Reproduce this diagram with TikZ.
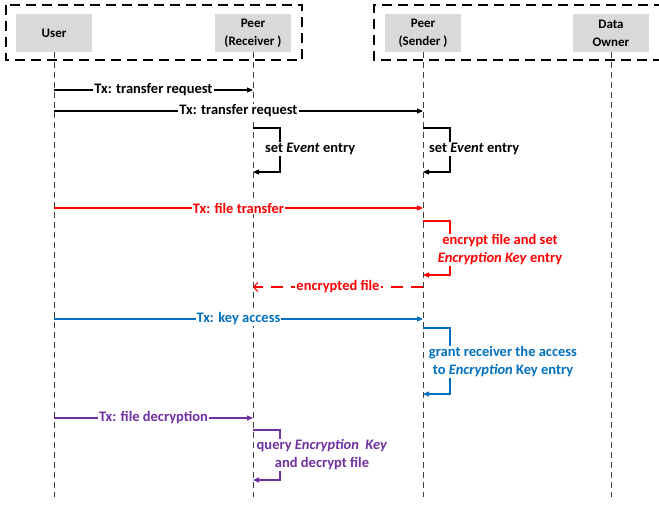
\documentclass[tikz,border=0pt]{standalone}
\usepackage{fontspec}
\setmainfont{Carlito}
\usepackage{xcolor}
\usetikzlibrary{arrows.meta,positioning,calc}
\definecolor{txred}{HTML}{FF0000}
\definecolor{txblue}{HTML}{0070C0}
\definecolor{txpurple}{HTML}{7030A0}
\tikzset{
    actor/.style={fill=black!15,minimum width=76pt,minimum height=38pt,align=center,inner sep=0pt,font=\fontsize{13}{18}\selectfont\bfseries},
    group/.style={dash pattern=on 10pt off 6pt,line width=1.8pt},
    lifeline/.style={dash pattern=on 6pt off 4pt,line width=0.9pt,black!75},
    msg/.style={-{Triangle[length=6pt,width=5pt]},line width=1.1pt},
    reply/.style={-{Straight Barb[length=4pt,width=9pt]},line width=1.1pt,dash pattern=on 12pt off 8pt},
    lbl/.style={fill=white,inner sep=1pt,align=center,font=\fontsize{14.5}{18}\selectfont\bfseries},
}
\begin{document}
\begin{tikzpicture}[x=1pt,y=-1pt]
    \useasboundingbox (0,0) rectangle (659,504);
    % groups
    \draw[group] (6,5) rectangle (302,60);
    \draw[group] (664,5) -- (374,5) -- (374,60) -- (664,60);
    % actors
    \node[actor] (user) at (54,33) {User};
    \node[actor] (recv) at (253,33) {Peer\\(Receiver )};
    \node[actor] (send) at (423,33) {Peer\\(Sender )};
    \node[actor] (owner) at (611,33) {Data\\Owner};
    \foreach \a in {user,recv,send,owner}
        \draw[lifeline] (\a.south) -- (\a |- 0,497);
    % transfer request
    \draw[msg] (user |- 0,90) -- node[lbl] {Tx: transfer request} (recv |- 0,90);
    \draw[msg] (user |- 0,111) -- node[lbl] {Tx: transfer request} (send |- 0,111);
    \draw[msg] (recv |- 0,128) -- ++(27,0) -- ++(0,44) -- ++(-27,0);
    \node[lbl,anchor=west] (evrecv) at (264,149) {set \textit{Event} entry};
    \draw[msg] (send |- 0,128) -- ++(27,0) -- ++(0,44) -- ++(-27,0);
    \node[lbl,anchor=west] (evsend) at (428,149) {set \textit{Event} entry};
    % file transfer
    \begin{scope}[txred]
        \draw[msg] (user |- 0,208) -- node[lbl] {Tx: file transfer} (send |- 0,208);
        \draw[msg] (send |- 0,221) -- ++(27,0) -- ++(0,54) -- ++(-27,0);
        \node[lbl] (encrypt) at (500,250) {encrypt file and set\\\textit{Encryption Key} entry};
        \draw[reply] (send |- 0,287) -- node[lbl] {encrypted file} (recv |- 0,287);
    \end{scope}
    % key access
    \begin{scope}[txblue]
        \draw[msg] (user |- 0,319) -- node[lbl] {Tx: key access} (send |- 0,319);
        \draw[msg] (send |- 0,328) -- ++(27,0) -- ++(0,66) -- ++(-27,0);
        \node[lbl] (grant) at (503,362) {grant receiver the access\\to \textit{Encryption} Key entry};
    \end{scope}
    % file decryption
    \begin{scope}[txpurple]
        \draw[msg] (user |- 0,418) -- node[lbl] {Tx: file decryption} (recv |- 0,418);
        \draw[msg] (recv |- 0,430) -- ++(27,0) -- ++(0,50) -- ++(-27,0);
        \node[lbl] (query) at (322,455) {query \textit{Encryption\ \ Key}\\and decrypt file};
    \end{scope}
\end{tikzpicture}
\end{document}
